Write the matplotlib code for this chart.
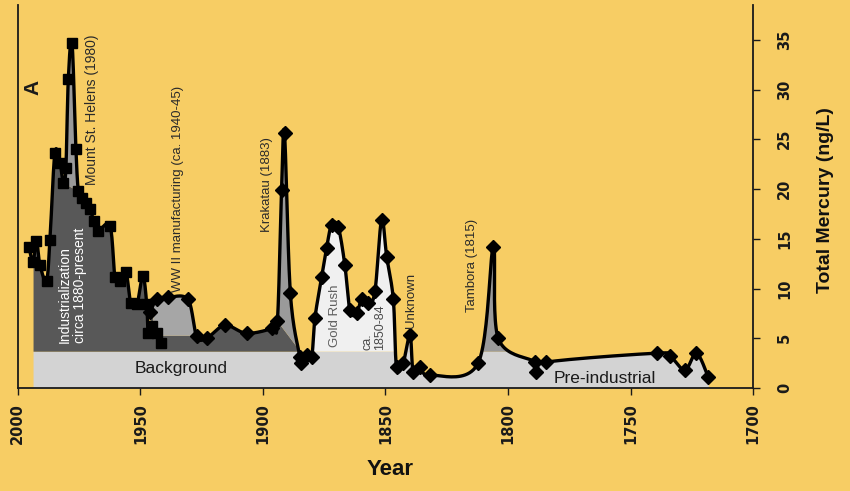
import numpy as np
import matplotlib
matplotlib.use("Agg")
import matplotlib.pyplot as plt
from matplotlib.transforms import blended_transform_factory

# ---------------- data ----------------
years_sq = [1995.5, 1993.8, 1992.4, 1991.0, 1988.3, 1986.9, 1984.9, 1982.8, 1981.4, 1980.4,
            1979.4, 1977.9, 1976.3, 1975.3, 1973.8, 1972.2, 1970.6, 1969.0, 1967.3, 1962.4,
            1960.4, 1958.3, 1955.9, 1953.9, 1951.4, 1949.0, 1947.4, 1946.8, 1945.3, 1943.2, 1941.6]
hg_sq = [14.2, 12.7, 14.8, 12.4, 10.8, 14.9, 23.6, 22.6, 20.6, 22.1,
         31.1, 34.7, 24.0, 19.8, 19.1, 18.6, 18.0, 16.8, 15.8, 16.3,
         11.2, 10.8, 11.7, 8.5, 8.4, 11.3, 8.4, 5.5, 6.2, 5.5, 4.5]

years_dm = [1946.1, 1943.3, 1938.8, 1930.6, 1927.1, 1923.0, 1915.5, 1906.7, 1896.3, 1894.1,
            1892.4, 1891.2, 1888.8, 1884.9, 1884.3, 1882.2, 1880.1, 1878.8, 1876.0, 1874.0,
            1872.0, 1869.3, 1866.6, 1864.5, 1861.8, 1859.7, 1857.0, 1854.3, 1851.6, 1849.5,
            1846.8, 1845.5, 1842.8, 1840.0, 1838.7, 1836.0, 1831.9, 1812.2, 1806.0, 1804.0,
            1789.0, 1788.4, 1784.3, 1739.4, 1733.9, 1727.8, 1723.1, 1718.3]
hg_dm = [7.6, 8.9, 9.1, 8.9, 5.2, 5.0, 6.3, 5.5, 6.0, 6.7,
         19.9, 25.6, 9.5, 3.1, 2.5, 3.3, 3.1, 7.0, 11.2, 14.1,
         16.4, 16.2, 12.4, 7.8, 7.5, 8.9, 8.5, 9.7, 16.9, 13.2,
         8.9, 2.1, 2.5, 5.3, 1.6, 2.1, 1.3, 2.5, 14.2, 5.0,
         2.6, 1.6, 2.6, 3.5, 3.2, 1.8, 3.5, 1.1]

background_level = 3.7
ww2_floor = 5.3
record_start = 1993.8
msh_window = (1981.4, 1975.3)
ww2_window = (1945.0, 1927.1)
krakatau_window = (1894.1, 1884.9)
goldrush_window = (1884.0, 1845.0)
unknown_window = (1843.5, 1838.0)
tambora_window = (1812.0, 1800.0)

x_ticks = [2000, 1950, 1900, 1850, 1800, 1750, 1700]
y_ticks = [0, 5, 10, 15, 20, 25, 30, 35]

# ---------------- colours ----------------
YELLOW = "#F7CD64"
DARK = "#585858"
MID = "#9a9a9a"
MID2 = "#a6a6a6"
LIGHT = "#d3d3d3"
PALE = "#f0f0f0"


def smooth(xs, ys, sx=2.451, sy=9.94, n=24):
    """Excel-like parametric Catmull-Rom smoothing in screen proportions."""
    P = np.column_stack([np.asarray(xs, float) * sx, np.asarray(ys, float) * sy])
    out = [P[0]]
    t = np.linspace(0, 1, n + 1)[1:, None]
    for i in range(len(P) - 1):
        p0 = P[i - 1] if i > 0 else P[i]
        p1, p2 = P[i], P[i + 1]
        p3 = P[i + 2] if i + 2 < len(P) else P[i + 1]
        c1 = p1 + (p2 - p0) / 6.0
        c2 = p2 - (p3 - p1) / 6.0
        seg = (1 - t) ** 3 * p1 + 3 * (1 - t) ** 2 * t * c1 + 3 * (1 - t) * t ** 2 * c2 + t ** 3 * p2
        out.extend(seg)
    out = np.array(out)
    return out[:, 0] / sx, out[:, 1] / sy


sxs, sys_ = smooth(years_sq, hg_sq)
dxs, dys = smooth(years_dm, hg_dm)


def on_grid(xs, ys, grid):
    o = np.argsort(xs)
    return np.interp(grid, xs[o], ys[o], left=np.nan, right=np.nan)


grid = np.linspace(record_start, min(years_dm), 4000)
Es = on_grid(sxs, sys_, grid)
Ed = on_grid(dxs, dys, grid)
E = np.where(np.isnan(Es), Ed, np.where(np.isnan(Ed), Es, np.fmax(Es, Ed)))


def E_at(x):
    return float(np.interp(x, grid[::-1], E[::-1]))


def lin(a, va, b, vb, x):
    return va + (vb - va) * (x - a) / (b - a)


# dark (industrial) top
dark_top = E.copy()
a, b = msh_window
m = (grid <= a) & (grid >= b)
dark_top[m] = np.minimum(E[m], lin(a, E_at(a), b, E_at(b), grid[m]))
a, b = ww2_window
m = (grid <= a) & (grid >= b)
dark_top[m] = np.minimum(E[m], ww2_floor)
a, b = krakatau_window
m = (grid <= a) & (grid >= b)
dark_top[m] = np.minimum(E[m], lin(a, E_at(a), b, background_level, grid[m]))
dark_mask = grid >= krakatau_window[1]

# ---------------- figure ----------------
fig = plt.figure(figsize=(8.5, 4.91), dpi=100, facecolor=YELLOW)
ax = fig.add_axes([0.021, 0.2098, 0.865, 0.780], facecolor=YELLOW)

bg_top = np.minimum(E, background_level)
ax.fill_between(grid, 0, bg_top, color=LIGHT, lw=0, zorder=1)
ax.fill_between(grid, background_level, dark_top, where=dark_mask, color=DARK, lw=0, zorder=2)

for (a, b), col in [(msh_window, MID), (ww2_window, MID2), (krakatau_window, MID)]:
    m = (grid <= a) & (grid >= b)
    ax.fill_between(grid, dark_top, E, where=m, color=col, lw=0, zorder=2)

for (a, b), col in [(goldrush_window, PALE), (unknown_window, LIGHT), (tambora_window, MID)]:
    m = (grid <= a) & (grid >= b) & (E > background_level)
    ax.fill_between(grid, background_level, E, where=m, color=col, lw=0, zorder=2, interpolate=True)

# lines and markers
ax.plot(sxs, sys_, color="black", lw=2.4, zorder=4, solid_joinstyle="round")
ax.plot(dxs, dys, color="black", lw=2.4, zorder=4, solid_joinstyle="round")
ax.plot(years_sq, hg_sq, ls="none", marker="s", ms=7, color="black", zorder=5)
ax.plot(years_dm, hg_dm, ls="none", marker="D", ms=6.8, color="black", zorder=5)

# ---------------- axes ----------------
ax.set_xlim(2000, 1700)
ax.set_ylim(0, 38.5)
ax.set_xticks(x_ticks)
ax.set_xticklabels([str(v) for v in x_ticks])
ax.set_yticks(y_ticks)
ax.yaxis.tick_right()
ax.set_yticklabels([])
ax.spines["top"].set_visible(False)
for s in ["left", "right", "bottom"]:
    ax.spines[s].set_linewidth(1.3)
    ax.spines[s].set_color("#1a1a1a")
    ax.spines[s].set_zorder(6)

ax.tick_params(axis="x", direction="out", length=5, width=1.0, pad=6, labelrotation=90,
               labelsize=10.5, colors="#1a1a1a")
ax.tick_params(axis="y", direction="out", length=5, width=1.0,
               colors="#1a1a1a", left=False, right=True)
for lab in ax.get_xticklabels():
    lab.set_fontweight("bold")
    lab.set_family("DejaVu Sans")

# right-hand value labels, rotated like the original
ytr = blended_transform_factory(ax.transAxes, ax.transData)
for v in y_ticks:
    ax.text(1.0425, v, str(v), transform=ytr, rotation=90, ha="center", va="center",
            fontsize=10.5, fontweight="bold", family="DejaVu Sans", color="#1a1a1a",
            clip_on=False)

ax.yaxis.set_label_position("right")
ax.set_ylabel("Total Mercury (ng/L)", fontsize=14, fontweight="bold",
              family=["Liberation Sans", "DejaVu Sans"], color="#111111")
ax.yaxis.label.set_rotation(90)
ax.yaxis.label.set_verticalalignment("center")
ax.yaxis.set_label_coords(1.099, 0.49)

ax.set_xlabel("Year", fontsize=16, fontweight="bold",
              family=["Liberation Sans Narrow", "Liberation Sans", "DejaVu Sans"], color="#111111")
ax.xaxis.label.set_verticalalignment("center")
ax.xaxis.set_label_coords(0.506, -0.214)

# ---------------- annotations ----------------
lab_font = ["Liberation Sans", "DejaVu Sans"]
ev_kw = dict(rotation=90, rotation_mode="anchor", ha="left", va="center",
             family=lab_font, zorder=7)
ax.text(1969.8, 20.4, "Mount St. Helens (1980)", fontsize=10, color="#2a2a2a", **ev_kw)
ax.text(1934.7, 9.6, "WW II manufacturing (ca. 1940-45)", fontsize=9.5, color="#2a2a2a", **ev_kw)
ax.text(1898.4, 15.7, "Krakatau (1883)", fontsize=9.5, color="#2a2a2a", **ev_kw)
ax.text(1977.7, 4.5, "Industrialization\ncirca 1880-present", fontsize=10, color="white",
        linespacing=1.15, **ev_kw)
ax.text(1870.6, 4.1, "Gold Rush", fontsize=9.5, color="#5e5e5e", **ev_kw)
ax.text(1854.9, 3.8, "ca.\n1850-84", fontsize=9, color="#4a4a4a", linespacing=1.1, **ev_kw)
ax.text(1839.6, 6.0, "Unknown", fontsize=9.5, color="#2a2a2a", **ev_kw)
ax.text(1814.7, 7.6, "Tambora (1815)", fontsize=9.5, color="#2a2a2a", **ev_kw)

ax.text(1993.8, 30.2, "A", rotation=90, ha="center", va="center", fontsize=15,
        fontweight="bold", family=lab_font, color="#1a1a1a", zorder=7)
ax.text(1933.5, 2.0, "Background", ha="center", va="center", fontsize=12.5,
        family=lab_font, color="#1a1a1a", zorder=7)
ax.text(1760.5, 1.0, "Pre-industrial", ha="center", va="center", fontsize=12.5,
        family=lab_font, color="#1a1a1a", zorder=7)

fig.savefig("out.png", dpi=100, facecolor=YELLOW)
